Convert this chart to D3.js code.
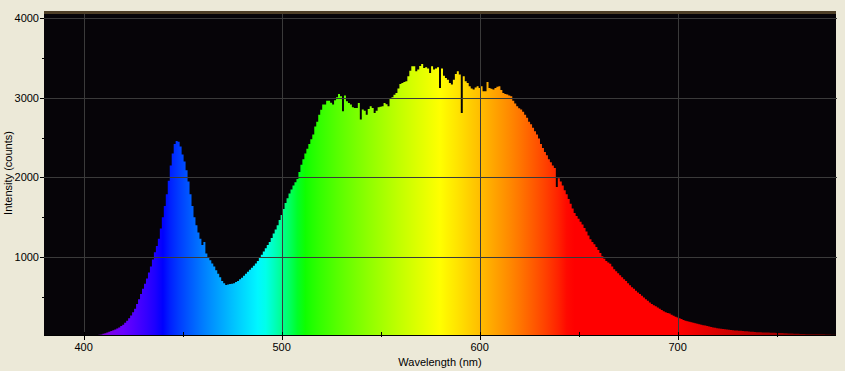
<!DOCTYPE html>
<html>
<head>
<meta charset="utf-8">
<script src="https://cdn.jsdelivr.net/npm/d3@7"></script>
<style>
  body { margin: 0; background: #ECE9D8; }
  svg { display: block; font-family: "Liberation Sans", Arial, sans-serif; }
</style>
</head>
<body>
<div id="chart"></div>
<script>
// spectrum samples, every 1 nm from 380 to 780
const startNm = 380;
const stepNm = 1;
const counts = [
    0,0,0,0,0,0,0,0,0,0,
    0,0,0,0,0,0,0,0,0,0,
    0,0,0,5,8,10,14,18,22,27,
    35,42,50,60,70,80,90,102,115,132,
    150,175,200,230,265,305,350,410,470,535,
    600,665,730,805,880,970,1060,1140,1230,1360,
    1500,1640,1790,1960,2150,2300,2420,2460,2450,2390,
    2290,2200,2090,1950,1790,1640,1500,1400,1310,1230,
    1150,1190,1045,1000,960,920,880,835,790,745,
    700,672,650,655,660,665,670,685,700,720,
    740,765,790,815,840,865,890,920,950,990,
    1030,1070,1110,1150,1190,1240,1295,1345,1400,1465,
    1530,1605,1680,1740,1800,1850,1900,1940,1980,2070,
    2160,2230,2300,2360,2420,2480,2540,2640,2700,2790,
    2850,2916,2916,2966,2966,2940,2916,2970,3008,3050,
    3021,2832,3029,2958,2937,2916,2883,2874,2874,2937,
    2728,2853,2840,2790,2860,2895,2874,2811,2840,2883,
    2890,2895,2937,2920,2895,3000,3008,3040,3063,3120,
    3176,3188,3200,3210,3272,3340,3398,3398,3335,3356,
    3400,3427,3377,3385,3370,3314,3398,3356,3370,3385,
    3126,3369,3280,3251,3230,3188,3168,3230,3300,3335,
    3293,2811,3272,3210,3188,3147,3120,3105,3130,3147,
    3126,3147,3084,3084,3200,3126,3115,3105,3126,3140,
    3147,3100,3063,3050,3042,3030,3021,2966,2930,2895,
    2870,2853,2825,2790,2750,2700,2670,2625,2580,2540,
    2490,2420,2370,2320,2280,2230,2190,2150,2120,1880,
    1990,1950,1900,1840,1790,1730,1670,1610,1555,1515,
    1480,1445,1410,1365,1320,1270,1225,1190,1160,1125,
    1090,1050,1010,980,950,930,915,880,845,820,
    795,770,745,720,700,670,645,620,600,575,
    555,535,515,490,470,450,430,410,395,380,
    365,350,335,320,305,298,290,275,262,250,
    240,230,220,210,200,194,188,181,175,168,
    162,156,150,144,138,132,126,120,115,110,
    106,102,98,95,92,89,86,83,80,78,
    76,74,72,70,68,66,64,62,60,58,
    56,55,54,53,52,51,50,49,48,47,
    46,45,45,44,43,42,40,39,38,37,
    35,35,34,33,32,31,30,30,30,30,
    29,29,28,28,28,27,26,25,24,23,
    22
];
const xTickLabels = [400, 500, 600, 700];
const xMinorTicks = [450, 550, 650, 750];
const yTickLabels = [1000, 2000, 3000, 4000];
const yMinorTicks = [500, 1500, 2500, 3500];

const data = counts.map((v, i) => ({nm: startNm + i * stepNm, v: v}));

const width = 845, height = 371;
const plotL = 44, plotR = 836, plotT = 11, plotB = 335;

const svg = d3.select("#chart").append("svg")
    .attr("width", width)
    .attr("height", height);

const x = d3.scaleLinear().domain([380, 780]).range([plotL, plotR]);
const y = d3.scaleLinear().domain([0, 4080]).range([336.6, 12]);

// wavelength -> colour (approximate visible spectrum)
function nmColor(w) {
    let r = 0, g = 0, b = 0;
    if (w < 440) { r = -(w - 440) / 60; b = 1; }
    else if (w < 490) { g = (w - 440) / 50; b = 1; }
    else if (w < 510) { g = 1; b = -(w - 510) / 20; }
    else if (w < 580) { r = (w - 510) / 70; g = 1; }
    else if (w < 645) { r = 1; g = -(w - 645) / 65; }
    else { r = 1; }
    let f = 1;
    if (w < 420) f = 0.3 + 0.7 * (w - 380) / 40;
    else if (w > 700) f = 0.3 + 0.7 * (780 - w) / 80;
    const c = v => Math.round(255 * Math.pow(v * f, 0.8));
    return d3.rgb(c(r), c(g), c(b));
}

const defs = svg.append("defs");
const grad = defs.append("linearGradient")
    .attr("id", "spec")
    .attr("gradientUnits", "userSpaceOnUse")
    .attr("x1", x(380)).attr("x2", x(780))
    .attr("y1", 0).attr("y2", 0);
d3.range(380, 781, 4).forEach(w => {
    grad.append("stop")
        .attr("offset", (w - 380) / 400)
        .attr("stop-color", nmColor(w));
});

defs.append("clipPath").attr("id", "plotclip")
  .append("rect")
    .attr("x", plotL).attr("y", plotT)
    .attr("width", plotR - plotL).attr("height", plotB - plotT);

// plot background
svg.append("rect")
    .attr("x", plotL).attr("y", plotT)
    .attr("width", plotR - plotL).attr("height", plotB - plotT)
    .attr("fill", "#060408");
svg.append("rect")
    .attr("x", plotL).attr("y", plotT)
    .attr("width", plotR - plotL).attr("height", 3)
    .attr("fill", "#4e3f27");

const area = d3.area()
    .x(d => x(d.nm))
    .y0(y(0))
    .y1(d => y(d.v))
    .curve(d3.curveStep);

svg.append("path")
    .datum(data)
    .attr("clip-path", "url(#plotclip)")
    .attr("d", area)
    .attr("fill", "url(#spec)");

// grid lines on top of the spectrum
svg.append("g").selectAll("line")
    .data(xTickLabels)
    .enter().append("line")
    .attr("x1", d => Math.round(x(d)) + 0.5).attr("x2", d => Math.round(x(d)) + 0.5)
    .attr("y1", plotT + 3).attr("y2", plotB)
    .attr("stroke", "#3a3a3a");

svg.append("g").selectAll("line")
    .data(yTickLabels)
    .enter().append("line")
    .attr("x1", plotL).attr("x2", plotR + 1)
    .attr("y1", d => Math.round(y(d)) + 0.5).attr("y2", d => Math.round(y(d)) + 0.5)
    .attr("stroke", "#3a3a3a");

// x axis
svg.append("line")
    .attr("x1", plotL).attr("x2", plotR)
    .attr("y1", plotB + 0.5).attr("y2", plotB + 0.5)
    .attr("stroke", "#000");

svg.append("g").selectAll("line")
    .data(xTickLabels.concat(xMinorTicks))
    .enter().append("line")
    .attr("x1", d => Math.round(x(d)) + 0.5).attr("x2", d => Math.round(x(d)) + 0.5)
    .attr("y1", plotB - 3).attr("y2", d => xTickLabels.includes(d) ? plotB + 5 : plotB + 2)
    .attr("stroke", "#000");

svg.append("g").selectAll("text")
    .data(xTickLabels)
    .enter().append("text")
    .attr("x", d => x(d))
    .attr("y", 351)
    .attr("text-anchor", "middle")
    .attr("font-size", 11)
    .text(d => d);

svg.append("text")
    .attr("x", 440)
    .attr("y", 366)
    .attr("text-anchor", "middle")
    .attr("font-size", 11)
    .text("Wavelength (nm)");

// y axis
svg.append("g").selectAll("line")
    .data(yTickLabels.concat(yMinorTicks))
    .enter().append("line")
    .attr("x1", d => yTickLabels.includes(d) ? plotL - 4 : plotL - 2).attr("x2", plotL)
    .attr("y1", d => Math.round(y(d)) + 0.5).attr("y2", d => Math.round(y(d)) + 0.5)
    .attr("stroke", "#000");

svg.append("g").selectAll("text")
    .data(yTickLabels)
    .enter().append("text")
    .attr("x", 39)
    .attr("y", d => y(d) + 4)
    .attr("text-anchor", "end")
    .attr("font-size", 11)
    .text(d => d);

svg.append("text")
    .attr("transform", "translate(12,173) rotate(-90)")
    .attr("text-anchor", "middle")
    .attr("font-size", 11)
    .text("Intensity (counts)");
</script>
</body>
</html>
